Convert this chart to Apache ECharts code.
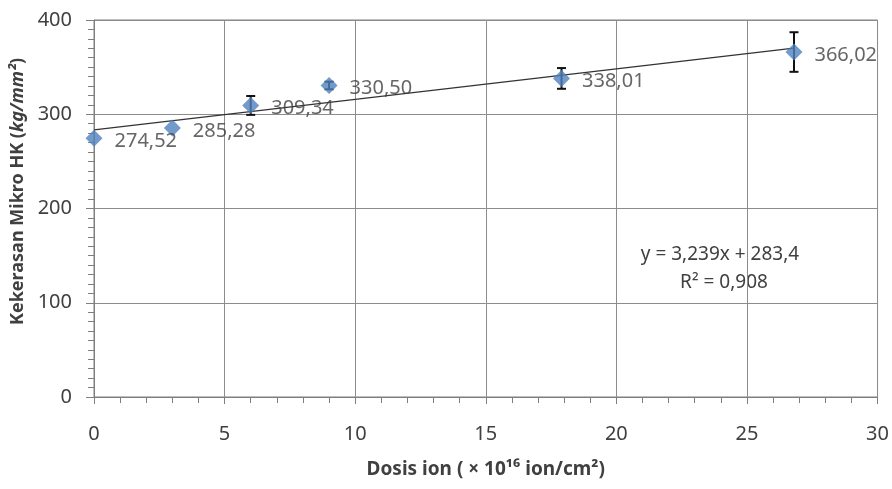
<!DOCTYPE html>
<html>
<head>
<meta charset="utf-8">
<script src="https://cdn.jsdelivr.net/npm/echarts@6/dist/echarts.min.js"></script>
<style>
  html, body { margin: 0; padding: 0; background: #fff; overflow: hidden; }
  #main { width: 892px; height: 489px; }
</style>
</head>
<body>
<div id="main"></div>
<script>
// dosis ion (x 10^16 ion/cm2) dan kekerasan mikro HK
var dosis = [0, 3, 6, 9, 17.9, 26.8];
var kekerasan = [274.52, 285.28, 309.34, 330.50, 338.01, 366.02];
var galat = [0, 0, 10, 4, 11, 21];
// garis trend linear dari persamaan pada grafik
var trendSlope = 3.239;
var trendIntercept = 283.4;
var trendX = [0, 26.8];

var font = '"Noto Sans", "Open Sans", sans-serif';

var points = dosis.map(function (x, i) { return [x, kekerasan[i]]; });
var errData = [];
dosis.forEach(function (x, i) {
  if (galat[i] > 0) errData.push([x, kekerasan[i] - galat[i], kekerasan[i] + galat[i]]);
});
var trendData = trendX.map(function (x) { return [x, trendSlope * x + trendIntercept]; });

var myChart = echarts.init(document.getElementById('main'));
myChart.setOption({
  animation: false,
  textStyle: { fontFamily: font },
  grid: {
    left: 94, right: 13, top: 20, bottom: 92,
    show: true, borderColor: '#7f7f7f', borderWidth: 1
  },
  xAxis: {
    type: 'value', min: 0, max: 30, interval: 5,
    name: 'Dosis ion ( × 10¹⁶ ion/cm²)',
    nameLocation: 'middle', nameGap: 63,
    nameTextStyle: { fontSize: 19, fontWeight: 'bold', color: '#404040', fontFamily: font },
    axisLine: { lineStyle: { color: '#7f7f7f' } },
    axisTick: { show: true, length: 7, lineStyle: { color: '#7f7f7f' } },
    minorTick: { show: true, splitNumber: 5, length: 6, lineStyle: { color: '#7f7f7f' } },
    axisLabel: { fontSize: 20, color: '#404040', margin: 27 },
    splitLine: { show: true, lineStyle: { color: '#8c8c8c', width: 1 } }
  },
  yAxis: {
    type: 'value', min: 0, max: 400, interval: 100,
    name: '{b|Kekerasan Mikro HK (}{i|kg/mm²}{b|)}',
    nameLocation: 'middle', nameGap: 64, nameRotate: 90,
    nameTextStyle: {
      padding: [0, 0, 0, 34],
      rich: {
        b: { fontSize: 18, fontWeight: 'bold', color: '#404040', fontFamily: font },
        i: { fontSize: 18, fontWeight: 'bold', fontStyle: 'italic', color: '#404040', fontFamily: font }
      }
    },
    axisLine: { show: true, lineStyle: { color: '#7f7f7f' } },
    axisTick: { show: true, length: 8, lineStyle: { color: '#7f7f7f' } },
    minorTick: { show: true, splitNumber: 10, length: 6, lineStyle: { color: '#7f7f7f' } },
    axisLabel: { fontSize: 20, color: '#404040', margin: 22 },
    splitLine: { show: true, lineStyle: { color: '#8c8c8c', width: 1 } }
  },
  series: [
    {
      name: 'trend',
      type: 'line',
      data: trendData,
      symbol: 'none',
      lineStyle: { color: '#333', width: 1.3 },
      z: 3
    },
    {
      name: 'galat',
      type: 'custom',
      data: errData,
      z: 4,
      renderItem: function (params, api) {
        var x = api.value(0);
        var lo = api.coord([x, api.value(1)]);
        var hi = api.coord([x, api.value(2)]);
        var cap = 4.5;
        var st = { stroke: '#111', lineWidth: 2 };
        return {
          type: 'group',
          children: [
            { type: 'line', shape: { x1: lo[0], y1: lo[1], x2: hi[0], y2: hi[1] }, style: st },
            { type: 'line', shape: { x1: lo[0] - cap, y1: lo[1], x2: lo[0] + cap, y2: lo[1] }, style: st },
            { type: 'line', shape: { x1: hi[0] - cap, y1: hi[1], x2: hi[0] + cap, y2: hi[1] }, style: st }
          ]
        };
      }
    },
    {
      name: 'HK',
      type: 'scatter',
      data: points,
      symbol: 'diamond',
      symbolSize: [17, 17],
      itemStyle: { color: '#4f81bd' },
      z: 5,
      label: {
        show: true,
        position: 'right',
        distance: 11,
        offset: [1, 3],
        fontSize: 20,
        color: '#404040',
        formatter: function (p) { return p.value[1].toFixed(2).replace('.', ','); }
      }
    }
  ],
  graphic: [
    {
      type: 'text', x: 720, y: 255,
      style: { text: 'y = 3,239x + 283,4', font: '19px ' + font, fill: '#404040', align: 'center', verticalAlign: 'middle' }
    },
    {
      type: 'text', x: 724, y: 283,
      style: { text: 'R² = 0,908', font: '19px ' + font, fill: '#404040', align: 'center', verticalAlign: 'middle' }
    }
  ]
});
</script>
</body>
</html>
